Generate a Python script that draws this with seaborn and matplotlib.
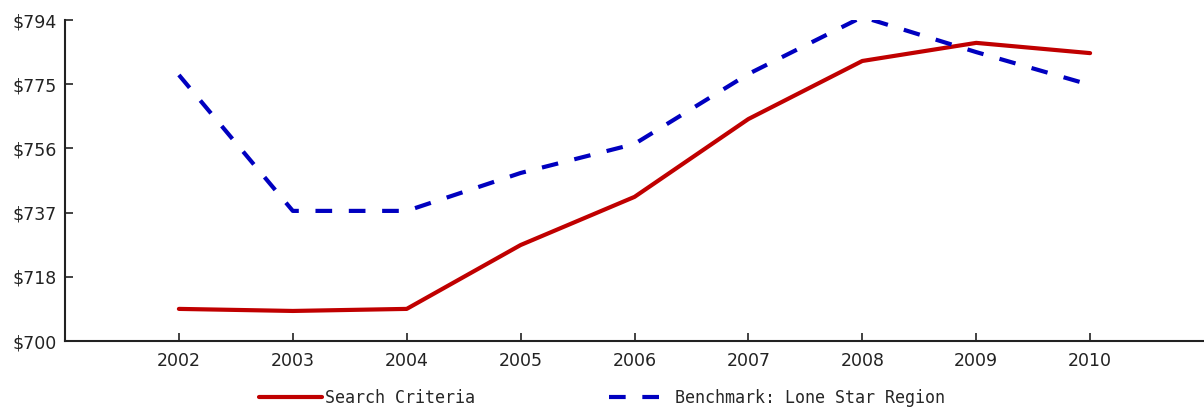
import numpy as np
import pandas as pd
import matplotlib
matplotlib.use("Agg")
import matplotlib.pyplot as plt
import seaborn as sns

# values
years = [2002, 2003, 2004, 2005, 2006, 2007, 2008, 2009, 2010]
search_criteria = [709.4, 708.8, 709.4, 728.1, 742.2, 765.0, 782.0, 787.3, 784.3]
lone_star = [777.9, 738.1, 738.1, 749.2, 757.7, 778.2, 794.9, 784.6, 775.0]
tick_labels = ["$700", "$718", "$737", "$756", "$775", "$794"]

df = pd.DataFrame({"year": years, "Search Criteria": search_criteria,
                   "Benchmark: Lone Star Region": lone_star})
long_df = df.melt(id_vars="year", var_name="series", value_name="rent")

sns.set_style("ticks")

fig = plt.figure(figsize=(12.04, 4.11), dpi=100)
ax = fig.add_axes([65 / 1204, 70 / 411, 1 - 65 / 1204, 321 / 411])

sns.lineplot(data=long_df, x="year", y="rent", hue="series", style="series",
             palette={"Search Criteria": "#c00000", "Benchmark: Lone Star Region": "#0000c0"},
             dashes={"Search Criteria": "", "Benchmark: Lone Star Region": (4, 4)},
             linewidth=3, ax=ax, legend=False)

ax.set_xlim(2001, 2011)
ax.set_ylim(700, 794)
ax.set_xticks(years)
ax.set_xticklabels([str(y) for y in years])
ax.set_yticks(np.linspace(700, 794, 6))
ax.set_yticklabels(tick_labels)
ax.set_xlabel("")
ax.set_ylabel("")
ax.tick_params(direction="in", length=6, width=1.2, labelsize=12.5, pad=8, colors="#222222")
ax.tick_params(axis="y", pad=6)
for side in ["top", "right"]:
    ax.spines[side].set_visible(False)
for side in ["left", "bottom"]:
    ax.spines[side].set_linewidth(1.5)
    ax.spines[side].set_color("#222222")

handles = [plt.Line2D([], [], color="#c00000", lw=3),
           plt.Line2D([], [], color="#0000c0", lw=3, dashes=(4, 4))]
fig.legend(handles, ["Search Criteria", "Benchmark: Lone Star Region"],
           loc="center", bbox_to_anchor=(0.5, 13 / 411), ncol=2, frameon=False,
           prop={"family": "DejaVu Sans Mono", "size": 12}, handlelength=3.8,
           handletextpad=0.2, columnspacing=8)

fig.savefig("out.png", dpi=100)
